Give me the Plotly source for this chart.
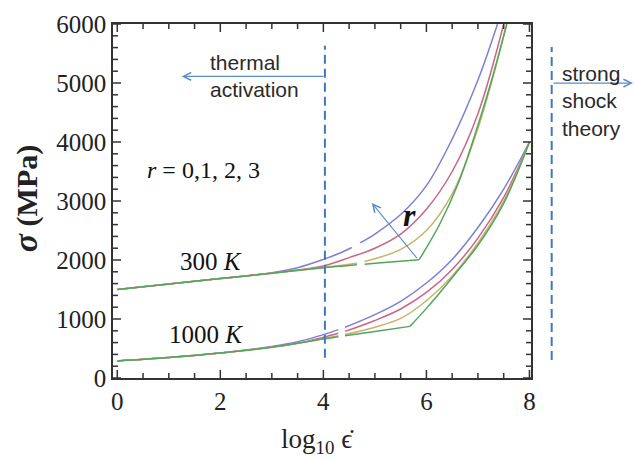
import plotly.graph_objects as go

# ---------------- data ----------------
# None marks the short white breaks visible in the reference curves
# 300 K family, r = 0,1,2,3
x300_r0 = [0, 1, 2, 3, 3.5, 4, 4.3, 4.55, None, 4.71, 5, 5.5, 6, 6.5, 7, 7.38]
y300_r0 = [1500, 1595, 1685, 1785, 1870, 2010, 2110, 2212, None, 2290, 2440, 2770, 3260, 4050, 5050, 6000]
x300_r1 = [0, 1, 2, 3, 3.5, 4, 4.5, 5, 5.5, 6, 6.5, 7, 7.5]
y300_r1 = [1500, 1595, 1685, 1777, 1830, 1900, 2040, 2200, 2440, 2860, 3500, 4480, 6000]
x300_r2 = [0, 1, 2, 3, 4, 4.4, 4.65, None, 4.8, 5, 5.5, 6, 6.5, 7, 7.56]
y300_r2 = [1500, 1595, 1685, 1775, 1872, 1915, 1945, None, 1975, 2020, 2180, 2500, 3120, 4230, 6000]
x300_r3 = [0, 1, 2, 3, 4, 4.4, 4.65, None, 4.8, 5, 5.86, 6.27, 6.62, 6.91, 7.25, 7.56]
y300_r3 = [1500, 1595, 1685, 1775, 1870, 1900, 1918, None, 1928, 1945, 2005, 2627, 3305, 4039, 5000, 6000]
kink300_x = 5.86   # kink of the r=3 curve

# 1000 K family, r = 0,1,2,3
x1000_r0 = [0, 1, 2, 3, 3.5, 4, 4.29, None, 4.42, 5, 5.5, 6, 6.5, 7, 7.5, 8]
y1000_r0 = [290, 347, 425, 535, 615, 735, 820, None, 860, 1075, 1300, 1610, 2010, 2550, 3200, 4000]
x1000_r1 = [0, 1, 2, 3, 3.5, 4, 4.29, None, 4.42, 5, 5.5, 6, 6.5, 7, 7.5, 8]
y1000_r1 = [290, 347, 423, 525, 590, 690, 757, None, 790, 975, 1170, 1450, 1840, 2370, 3060, 4000]
x1000_r2 = [0, 1, 2, 3, 4, 4.29, None, 4.42, 5, 5.5, 6, 6.5, 7, 7.5, 8]
y1000_r2 = [290, 347, 422, 520, 665, 715, None, 737, 860, 1010, 1310, 1730, 2290, 3000, 4000]
x1000_r3 = [0, 1, 2, 3, 4, 4.29, None, 4.42, 5, 5.68, 6, 6.5, 7, 7.5, 8]
y1000_r3 = [290, 347, 422, 520, 660, 700, None, 718, 790, 875, 1180, 1700, 2250, 2960, 4000]
kink1000_x = 5.68

colors = ["#7d7fd6", "#cc6488", "#c9b36c", "#52a65c"]

# tick marks: every 0.5 on x, every 200 on y; labels only on the major ones
x_tick_pos = [i * 0.5 for i in range(17)]
x_tick_lab = ["0", "", "", "", "2", "", "", "", "4", "", "", "", "6", "", "", "", "8"]
y_tick_pos = [i * 200 for i in range(31)]
y_tick_lab = [str(v) if v % 1000 == 0 else "" for v in y_tick_pos]

x_range = [-0.083, 8.03]
y_range = [0, 6000]

boundary_x = 4.03          # thermal activation limit (log10 strain rate)

W, H = 635, 458
M = dict(l=113, r=104, t=24, b=80)
plot_w = W - M["l"] - M["r"]
plot_h = H - M["t"] - M["b"]

fig = go.Figure()

def add_curve(x, y, color, kink=None):
    if kink is None:
        segs = [(x, y)]
    else:
        k = x.index(kink)
        segs = [(x[:k + 1], y[:k + 1]), (x[k:], y[k:])]
    for xs, ys in segs:
        fig.add_trace(go.Scatter(x=xs, y=ys, mode="lines", connectgaps=False,
                                 line=dict(color=color, width=1.5, shape="spline", smoothing=1.0),
                                 showlegend=False, hoverinfo="skip"))

fam300 = [(x300_r0, y300_r0, None), (x300_r1, y300_r1, None), (x300_r2, y300_r2, None), (x300_r3, y300_r3, kink300_x)]
fam1000 = [(x1000_r0, y1000_r0, None), (x1000_r1, y1000_r1, None), (x1000_r2, y1000_r2, None), (x1000_r3, y1000_r3, kink1000_x)]
for fam in (fam300, fam1000):
    for (xs, ys, c), col in zip(fam, colors):
        add_curve(xs, ys, col, c)

serif = "Liberation Serif, Times New Roman, serif"
sans = "Liberation Sans, Arial, sans-serif"
axis_col = "#333333"

common = dict(showgrid=False, zeroline=False, showline=True, linecolor=axis_col, linewidth=1.5,
              mirror=True, ticks="", automargin=False,
              tickfont=dict(family=serif, size=25, color="#222"))

fig.update_layout(
    template="none",
    width=W, height=H,
    margin=M,
    paper_bgcolor="white", plot_bgcolor="white",
    showlegend=False,
    xaxis=dict(range=x_range, tickmode="array", tickvals=x_tick_pos, ticktext=x_tick_lab, **common),
    yaxis=dict(range=y_range, tickmode="array", tickvals=y_tick_pos, ticktext=y_tick_lab, **common),
)

# inside frame ticks on all four sides (major longer than minor), in axis units
MAJOR_LEN, MINOR_LEN = 8, 5
y_per_px = (y_range[1] - y_range[0]) / plot_h
x_per_px = (x_range[1] - x_range[0]) / plot_w
tick_line = dict(color=axis_col, width=1.5)
for xv, lab in zip(x_tick_pos, x_tick_lab):
    d = (MAJOR_LEN if lab else MINOR_LEN) * y_per_px
    for a, b in ((y_range[0], y_range[0] + d), (y_range[1] - d, y_range[1])):
        fig.add_shape(type="line", xref="x", yref="y", x0=xv, x1=xv, y0=a, y1=b,
                      line=tick_line, layer="above")
for yv, lab in zip(y_tick_pos, y_tick_lab):
    d = (MAJOR_LEN if lab else MINOR_LEN) * x_per_px
    for a, b in ((x_range[0], x_range[0] + d), (x_range[1] - d, x_range[1])):
        fig.add_shape(type="line", xref="x", yref="y", x0=a, x1=b, y0=yv, y1=yv,
                      line=tick_line, layer="above")

# axis titles
fig.add_annotation(x=0.49, y=-0.178, xref="paper", yref="paper", xanchor="center", yanchor="middle",
                   text="log<sub>10</sub> ϵ̇", showarrow=False,
                   font=dict(family=serif, size=27, color="#222"))
fig.add_annotation(x=-0.2105, y=0.505, xref="paper", yref="paper", xanchor="center", yanchor="middle",
                   text="<b><i><span style='font-size:34px'>σ</span></i> (MPa)</b>", showarrow=False,
                   textangle=-90, font=dict(family=serif, size=30, color="#222"))

dash_col = "#3f78c0"
arrow_col = "#5b8dcc"
# dashed boundary inside the frame
fig.add_shape(type="line", xref="x", yref="y", x0=boundary_x, x1=boundary_x, y0=344, y1=5630,
              line=dict(color=dash_col, width=2, dash="9px,5px"))
# dashed boundary outside the frame (strong shock)
fig.add_shape(type="line", xref="paper", yref="paper", x0=1.0495, x1=1.0495, y0=0.051, y1=0.935,
              line=dict(color=dash_col, width=2, dash="9px,5px"))

# arrows
fig.add_annotation(x=1.25, y=5112, ax=boundary_x, ay=5112, xref="x", yref="y", axref="x", ayref="y",
                   text="", showarrow=True, arrowhead=5, arrowsize=1.4, arrowwidth=1.1, arrowcolor=arrow_col)
fig.add_annotation(x=1.244, y=0.833, xref="paper", yref="paper", ax=-81, ay=0,
                   text="", showarrow=True, arrowhead=5, arrowsize=1.4, arrowwidth=1.1, arrowcolor=arrow_col)
fig.add_annotation(x=4.94, y=2966, ax=5.84, ay=2005, xref="x", yref="y", axref="x", ayref="y",
                   text="", showarrow=True, arrowhead=5, arrowsize=1.4, arrowwidth=1.1, arrowcolor=arrow_col)

# texts
fig.add_annotation(x=1.76, y=5112, xref="x", yref="y", xanchor="left", yanchor="middle", align="left",
                   text="thermal<br>activation", showarrow=False,
                   font=dict(family=sans, size=21, color="#2a2a2a"))
fig.add_annotation(x=1.07, y=0.833, xref="paper", yref="paper", xanchor="left", yanchor="middle", align="left",
                   text="strong<br>shock<br>theory", showarrow=False, yshift=-18,
                   font=dict(family=sans, size=21, color="#2a2a2a"))
fig.add_annotation(x=0.54, y=3530, xref="x", yref="y", xanchor="left", yanchor="middle",
                   text="<i>r</i> = 0,1, 2, 3", showarrow=False,
                   font=dict(family=serif, size=24, color="#111"))
fig.add_annotation(x=1.18, y=1971, xref="x", yref="y", xanchor="left", yanchor="middle",
                   text="300 <i>K</i>", showarrow=False,
                   font=dict(family=serif, size=25, color="#111"))
fig.add_annotation(x=0.96, y=734, xref="x", yref="y", xanchor="left", yanchor="middle",
                   text="1000 <i>K</i>", showarrow=False,
                   font=dict(family=serif, size=25, color="#111"))
fig.add_annotation(x=5.68, y=2768, xref="x", yref="y", xanchor="center", yanchor="middle",
                   text="<b><i>r</i></b>", showarrow=False,
                   font=dict(family=serif, size=32, color="#111"))

fig.write_html("out.html", config={"displayModeBar": False},
               post_script="document.body.style.margin='0px';document.body.style.padding='0px';")
